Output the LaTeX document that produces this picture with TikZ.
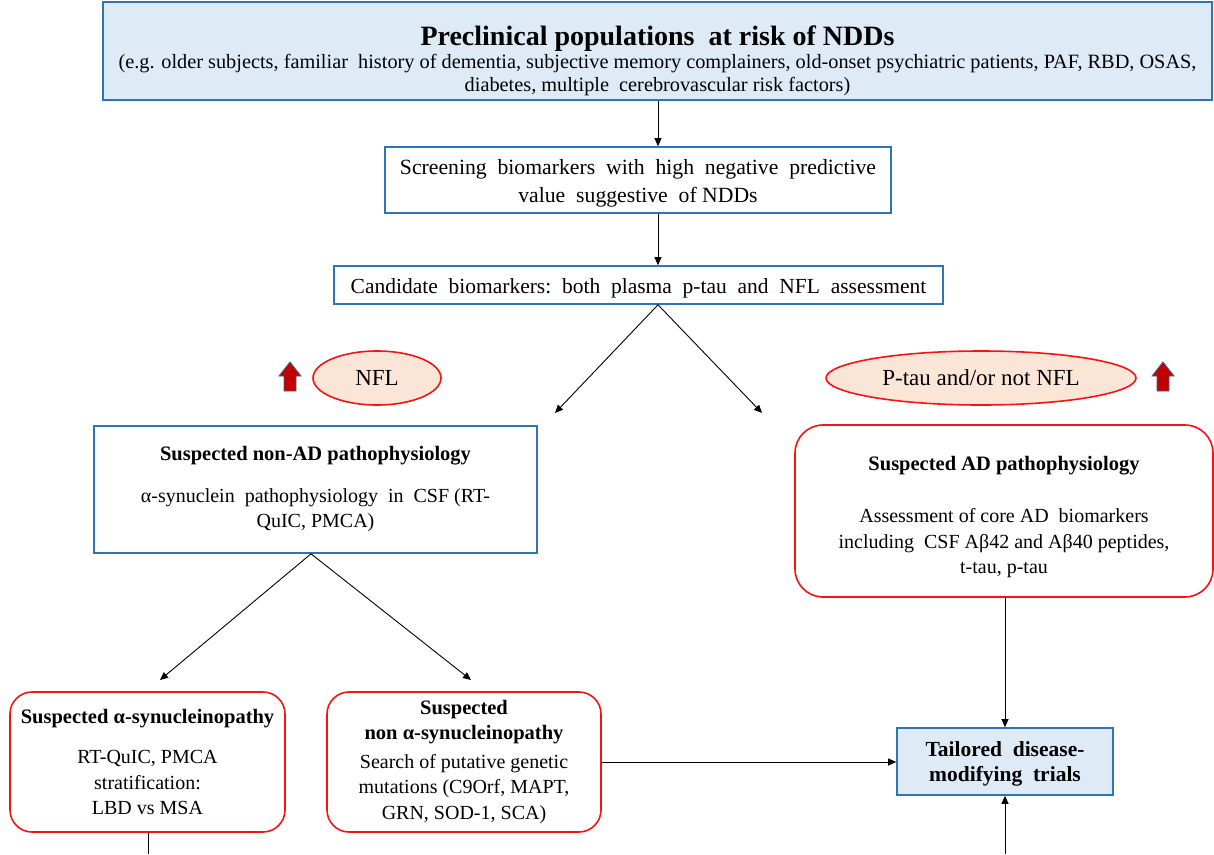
\documentclass[tikz,border=0pt]{standalone}
\usepackage{fontspec}
\setmainfont{Liberation Serif}
\usetikzlibrary{arrows.meta,shapes.geometric}
\definecolor{bluex}{HTML}{2E75B6}
\definecolor{redx}{HTML}{F41414}
\definecolor{bluebg}{HTML}{DEEBF7}
\definecolor{peach}{HTML}{FBE5D6}
\definecolor{darkred}{HTML}{C00000}
\definecolor{navy}{HTML}{4A5A8A}
\tikzset{
  ar/.style={-{Triangle[length=8pt,width=7pt]},line width=0.9pt,black},
  ln/.style={line width=0.9pt,black},
  bbox/.style={draw=bluex,line width=1.6pt,fill=bluebg,align=center,inner sep=2pt},
  wbox/.style={draw=bluex,line width=1.6pt,fill=white,align=center,inner sep=2pt},
  rbox/.style={draw=redx,line width=1.6pt,fill=white,rounded corners=22pt,align=center,inner sep=2pt},
  oval/.style={ellipse,draw=redx,line width=1.6pt,fill=peach,inner sep=0pt,font=\fontsize{23}{27}\selectfont},
  upar/.style={fill=darkred,draw=navy,line width=0.8pt},
  txt/.style={font=\fontsize{20}{25.5}\selectfont}
}
\newcommand{\redup}[1]{\draw[upar] (#1) ++(0,-15) -- ++(11,14) -- ++(-5,0) -- ++(0,15) -- ++(-12,0) -- ++(0,-15) -- ++(-5,0) -- cycle;}
\newcommand{\ttl}{\bfseries\fontsize{20.5}{25}\selectfont}

\begin{document}
\begin{tikzpicture}[x=1pt,y=-1pt]
\useasboundingbox (0,0) rectangle (1214,854);
% top of the flow
\node[bbox,font=\fontsize{20.3}{23}\selectfont,minimum width=1109,minimum height=98] (pop) at (657.5,51) {{\bfseries\fontsize{28}{25}\selectfont\rule{0pt}{40pt}Preclinical populations\ \ at risk of NDDs}\\(e.g. older subjects, familiar\ \ history of dementia, subjective memory complainers, old-onset psychiatric patients, PAF, RBD, OSAS,\\diabetes, multiple\ \ cerebrovascular risk factors)};
\node[wbox,font=\fontsize{21.7}{28}\selectfont,minimum width=506,minimum height=66] (screen) at (638,180) {\rule{0pt}{22pt}Screening\ \ biomarkers\ \ with\ \ high\ \ negative\ \ predictive\\value\ \ suggestive\ \ of NDDs};
\node[wbox,font=\fontsize{21.5}{26}\selectfont,minimum width=609,minimum height=38] (cand) at (638.5,285) {\rule{0pt}{21pt}Candidate\ \ biomarkers:\ \ both\ \ plasma\ \ p-tau\ \ and\ \ NFL\ \ assessment};
% markers
\node[oval,minimum width=128,minimum height=54] (nfl) at (377,378) {NFL};
\node[oval,minimum width=310,minimum height=54] (ptau) at (981,378) {P-tau and/or not NFL};
\redup{290,377}
\redup{1163,377}
% second level
\node[wbox,txt,minimum width=443,minimum height=127] (nonad) at (315.5,489.5) {{\ttl Suspected non-AD pathophysiology}\\[16pt]α-synuclein\ \ pathophysiology\ \ in\ \ CSF (RT-\\QuIC, PMCA)};
\node[rbox,txt,minimum width=418,minimum height=172,rounded corners=28pt] (ad) at (1004,511) {{\ttl\rule{0pt}{26pt}Suspected AD pathophysiology}\\[27pt]Assessment of core AD\ \ biomarkers\\including\ \ CSF Aβ42 and Aβ40 peptides,\\t-tau, p-tau};
% third level
\node[rbox,txt,minimum width=275,minimum height=140] (asyn) at (147.5,762) {{\ttl Suspected α-synucleinopathy}\\[15pt]RT-QuIC, PMCA\\stratification:\\LBD vs MSA};
\node[rbox,txt,minimum width=274,minimum height=140] (nonsyn) at (464,762) {{\ttl Suspected}\\{\ttl non α-synucleinopathy}\\[3pt]Search of putative genetic\\mutations (C9Orf, MAPT,\\GRN, SOD-1, SCA)};
\node[bbox,minimum width=216,minimum height=67,font=\bfseries\fontsize{21.5}{25}\selectfont] (tail) at (1005,761.5) {\rule{0pt}{20pt}Tailored\ \ disease-\\modifying\ \ trials};
% connectors
\coordinate (vx) at (658,0);
\coordinate (nx) at (311,0);
\coordinate (splitL) at (555,413);
\coordinate (splitR) at (762,413);
\coordinate (synL) at (160,680);
\coordinate (synR) at (471,680);
\coordinate (bl) at (148,854);
\coordinate (br) at (1005,854);
\draw[ar] (pop.south -| vx) -- (screen.north -| vx);
\draw[ar] (screen.south -| vx) -- (cand.north -| vx);
\draw[ar] (cand.south -| vx) -- (splitL);
\draw[ar] (cand.south -| vx) -- (splitR);
\draw[ar] (nonad.south -| nx) -- (synL);
\draw[ar] (nonad.south -| nx) -- (synR);
\draw[ar] (tail.north |- ad.south) -- (tail.north);
\draw[ar] (nonsyn.east) -- (nonsyn.east -| tail.west);
\draw[ln] (asyn.south -| bl) -- (bl);
\draw[ar] (br) -- (tail.south);
\end{tikzpicture}
\end{document}
